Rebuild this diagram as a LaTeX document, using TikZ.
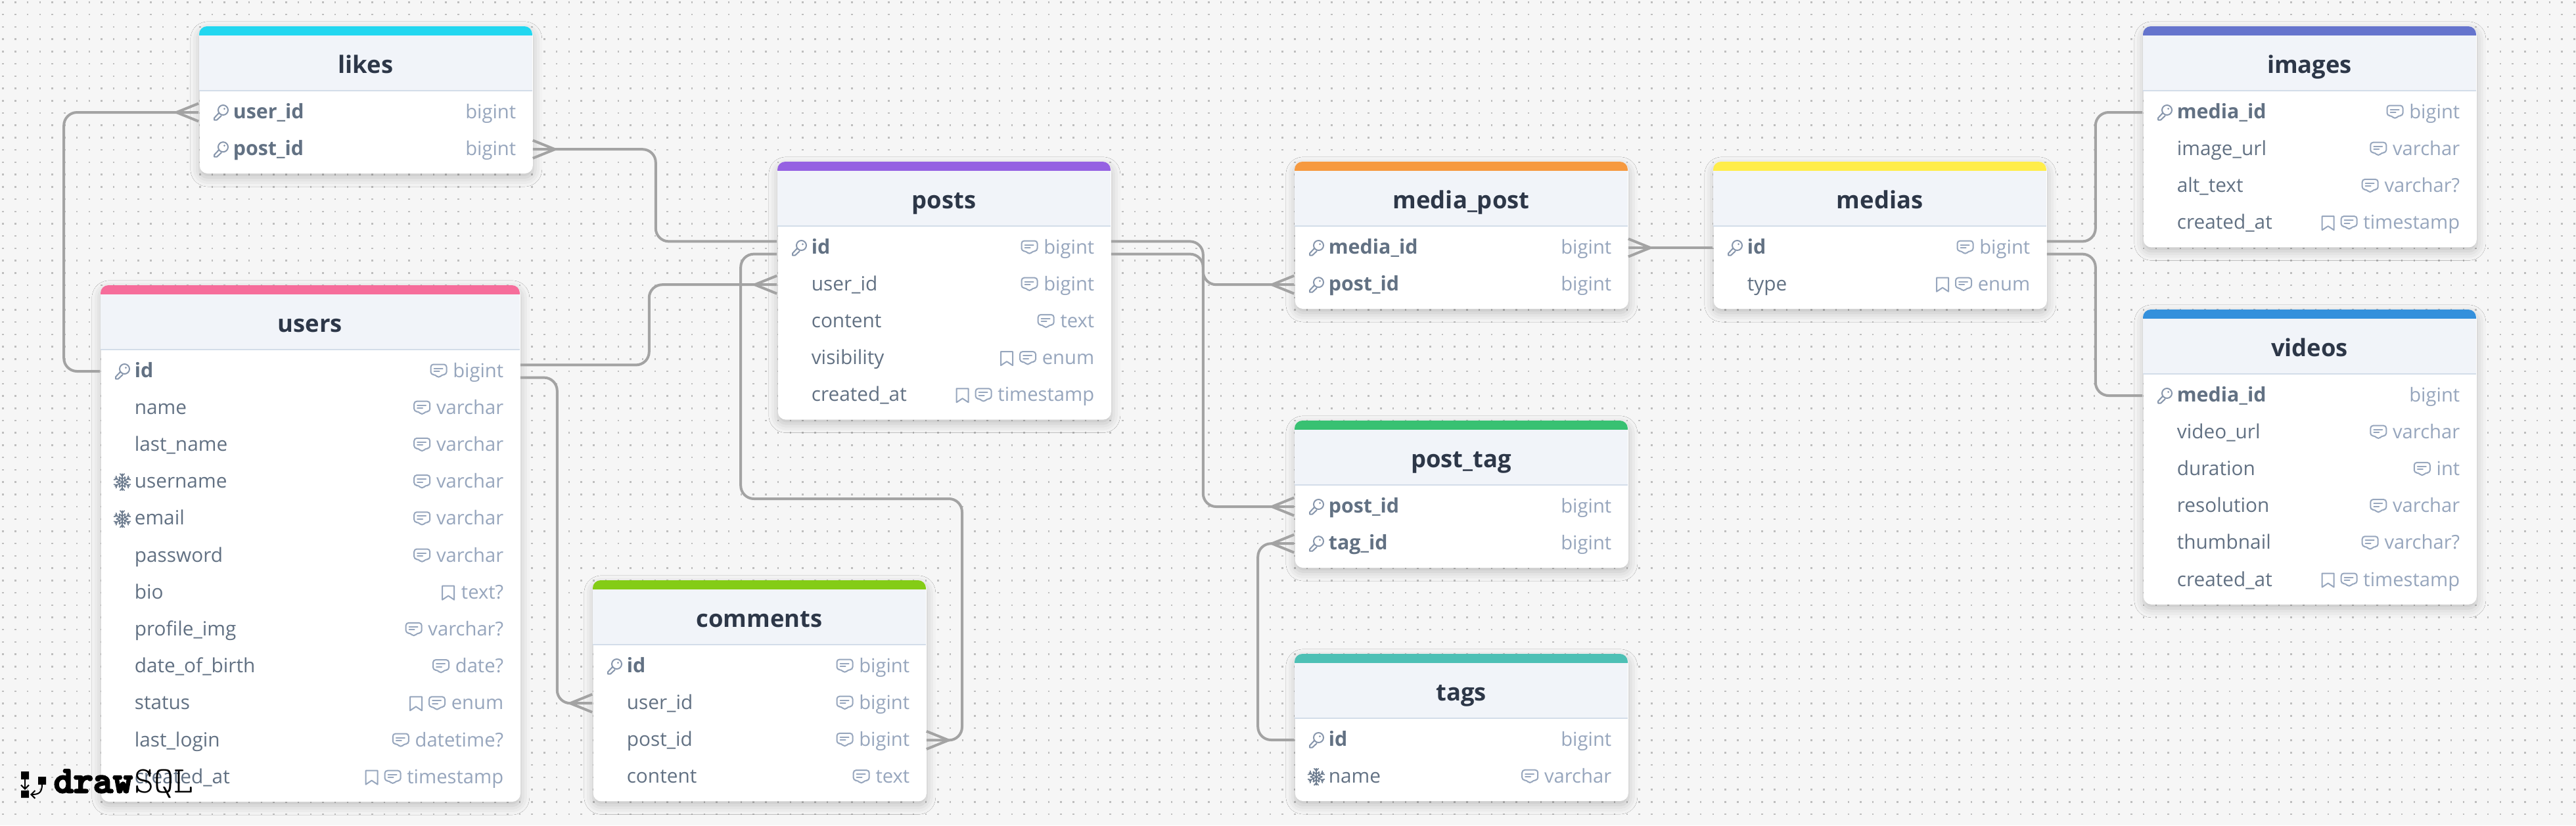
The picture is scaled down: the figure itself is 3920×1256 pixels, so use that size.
\documentclass[tikz,border=0pt]{standalone}
\usepackage{fontspec}
\setmainfont{Open Sans}
\newfontfamily\logodrawfont{lmmonolt10-bold.otf}[FakeBold=4.5]
\usetikzlibrary{arrows.meta,shadows.blur}

\definecolor{pagebg}{HTML}{F6F6F6}
\definecolor{griddot}{HTML}{BEBEBE}
\definecolor{headfill}{HTML}{F1F4F9}
\definecolor{headline}{HTML}{D3DDE9}
\definecolor{titleink}{HTML}{2D3748}
\definecolor{rowink}{HTML}{627183}
\definecolor{typeink}{HTML}{97A6BD}
\definecolor{relink}{HTML}{A3A3A3}
\definecolor{barlikes}{HTML}{22D7F0}
\definecolor{barusers}{HTML}{F66D9B}
\definecolor{barposts}{HTML}{9561E2}
\definecolor{barcomments}{HTML}{84CC16}
\definecolor{barmediapost}{HTML}{F6993F}
\definecolor{barmedias}{HTML}{FFED4A}
\definecolor{barposttag}{HTML}{38C172}
\definecolor{bartags}{HTML}{4DC0B5}
\definecolor{barimages}{HTML}{6574CD}
\definecolor{barvideos}{HTML}{3490DC}

\tikzset{
	tablecard/.style={rectangle,rounded corners=3pt,fill=white,inner sep=0pt,anchor=north west,
		blur shadow={shadow xshift=0pt,shadow yshift=-1.5pt,shadow blur radius=3.5pt,shadow opacity=22}},
	tabletitle/.style={anchor=base,inner sep=0pt,text=titleink,font=\fontsize{9.1}{11}\selectfont\bfseries},
	rowslot/.style={rectangle,inner sep=0pt,minimum height=14pt},
	rowname/.style={anchor=base west,inner sep=0pt,text=rowink,font=\fontsize{7.45}{9}\selectfont},
	rowtype/.style={anchor=base east,inner sep=0pt,text=typeink,font=\fontsize{7.3}{9}\selectfont},
	weight-k/.style={font=\fontsize{7.6}{9}\selectfont\bfseries},
	weight-u/.style={},
	weight-n/.style={},
	relline/.style={draw=relink,line width=1pt,rounded corners=5pt},
	dotrow/.style={griddot,line width=.625pt,dash pattern=on .625pt off 4.055pt},
	iconline/.style={typeink,line width=.5pt,line join=round,line cap=round},
	pics/lead-n/.style={code={}},
	pics/lead-k/.style={code={
		\draw[typeink!70!rowink,line width=.5pt,line join=round]
			(3.5,-3.5) circle (7.5)
			(-2.5,0.5) -- (-10,8.5) -- (-10,11.5) -- (-6,11.5) -- (1,5);
		\fill[typeink!70!rowink] (5.5,-5.5) circle (1.5);
	}},
	pics/lead-u/.style={code={
		\foreach \a in {30,90,...,330}{
			\draw[rowink!80!typeink,line width=.4pt,rotate=\a]
				(0,0) -- (13,0) (8,-4.5) -- (4,0) -- (8,4.5) (13,-3.5) -- (9,0) -- (13,3.5);
		}
	}},
	pics/flag-n/.style={code={}},
	pics/flag-c/.style={code={
		\draw[iconline,rounded corners=1pt]
			(-33,-10.5) -- (-9,-10.5) -- (-9,5) -- (-16,5) -- (-21,10.5) -- (-26,5) -- (-33,5) -- cycle;
		\draw[iconline] (-28,-4.5) -- (-15,-4.5) (-28,0) -- (-20,0);
	}},
	pics/flag-m/.style={code={
		\draw[iconline] (-28,-10.5) -- (-10,-10.5) -- (-10,10.5) -- (-19,4.5) -- (-28,10.5) -- cycle;
	}},
	pics/flag-b/.style={code={
		\pic {flag-c};
		\draw[iconline] (-62,-10.5) -- (-44,-10.5) -- (-44,10.5) -- (-53,4.5) -- (-62,10.5) -- cycle;
	}},
}

% name, left, top, width, colour, number of rows, rows
\newcommand{\dbtable}[7]{
	\pgfmathsetmacro{\cardh}{167+(#6-1)*56.2}
	\node[tablecard,minimum width=#4*0.25pt,minimum height=\cardh*0.25pt] (#1) at (#2,#3) {};
	\fill[#5] (#2,#3+14) [rounded corners=3pt] -- (#2,#3) -- (#2+#4,#3) [sharp corners] -- (#2+#4,#3+14) -- cycle;
	\fill[headfill] (#2,#3+14) rectangle (#2+#4,#3+97);
	\draw[headline,line width=.5pt] (#2,#3+97.5) -- (#2+#4,#3+97.5);
	\node[tabletitle] (#1-title) at (#2+#4/2,#3+71) {#1};
	\foreach \fname/\fkey/\fflag/\ftype [count=\i from 0] in {#7}{
		\pgfmathsetmacro{\ry}{#3+131+\i*56.2}
		\node[rowslot,minimum width=#4*0.25pt] (#1-\fname) at (#2+#4/2,\ry) {};
		\pic at (#2+33,\ry) {lead-\fkey};
		\node[rowname,weight-\fkey] (#1-\fname-name) at (#2+51,\ry+9) {\fname};
		\node[rowtype] (#1-\fname-type) at (#2+#4-24,\ry+9) {\ftype};
		\pic at (#1-\fname-type.west |- #1-\fname.center) {flag-\fflag};
	}
}
\newcommand{\crowwest}[1]{\draw[relline,rounded corners=0pt] ([yshift=3.4pt]#1.west) -- ([xshift=-8.4pt]#1.west) -- ([yshift=-3.4pt]#1.west);}
\newcommand{\croweast}[1]{\draw[relline,rounded corners=0pt] ([yshift=3.4pt]#1.east) -- ([xshift=8.4pt]#1.east) -- ([yshift=-3.4pt]#1.east);}

\begin{document}
\catcode`\_=12
\begin{tikzpicture}[x=0.25pt,y=-0.25pt]
	\useasboundingbox (0,0) rectangle (3920,1256);
	\fill[pagebg] (0,0) rectangle (3920,1256);
	\foreach \j in {0,...,66}{
		\draw[dotrow] (3.5,3.5+\j*18.72) -- (3920,3.5+\j*18.72);
	}

	\dbtable{likes}{303}{40}{507}{barlikes}{2}{user_id/k/n/bigint,post_id/k/n/bigint}
	\dbtable{users}{153}{434}{638}{barusers}{12}{id/k/c/bigint,name/n/c/varchar,last_name/n/c/varchar,
		username/u/c/varchar,email/u/c/varchar,password/n/c/varchar,bio/n/m/text?,profile_img/n/c/varchar?,
		date_of_birth/n/c/date?,status/n/b/enum,last_login/n/c/datetime?,created_at/n/b/timestamp}
	\dbtable{posts}{1183}{246}{507}{barposts}{5}{id/k/c/bigint,user_id/n/c/bigint,content/n/c/text,
		visibility/n/b/enum,created_at/n/b/timestamp}
	\dbtable{comments}{902}{883}{507}{barcomments}{4}{id/k/c/bigint,user_id/n/c/bigint,post_id/n/c/bigint,content/n/c/text}
	\dbtable{media_post}{1970}{246}{507}{barmediapost}{2}{media_id/k/n/bigint,post_id/k/n/bigint}
	\dbtable{medias}{2607}{246}{507}{barmedias}{2}{id/k/c/bigint,type/n/b/enum}
	\dbtable{post_tag}{1970}{640}{507}{barposttag}{2}{post_id/k/n/bigint,tag_id/k/n/bigint}
	\dbtable{tags}{1970}{995}{507}{bartags}{2}{id/k/n/bigint,name/u/c/varchar}
	\dbtable{images}{3261}{40}{507}{barimages}{4}{media_id/k/c/bigint,image_url/n/c/varchar,
		alt_text/n/c/varchar?,created_at/n/b/timestamp}
	\dbtable{videos}{3261}{471}{507}{barvideos}{6}{media_id/k/n/bigint,video_url/n/c/varchar,duration/n/c/int,
		resolution/n/c/varchar,thumbnail/n/c/varchar?,created_at/n/b/timestamp}

	\coordinate (postsdrop) at (1464,759);
	\draw[relline] (users-id.west) -- ++(-55,0) |- (likes-user_id.west);
	\draw[relline] (likes-post_id.east) -- ++(187,0) |- ([yshift=2.4pt]posts-id.west);
	\draw[relline] ([yshift=2.4pt]users-id.east) -- ++(196,0) |- (posts-user_id.west);
	\draw[relline] ([yshift=-2.4pt]users-id.east) -- ++(56,0) |- (comments-user_id.west);
	\draw[relline] ([yshift=-2.4pt]posts-id.west) -- ++(-55,0) |- (postsdrop) |- (comments-post_id.east);
	\draw[relline] ([yshift=2.4pt]posts-id.east) -- ++(140,0) |- (media_post-post_id.west);
	\draw[relline] ([yshift=-2.4pt]posts-id.east) -- ++(140,0) |- (post_tag-post_id.west);
	\draw[relline] (media_post-media_id.east) -- (medias-id.west);
	\draw[relline] ([yshift=2.4pt]medias-id.east) -- ++(74,0) |- (images-media_id.west);
	\draw[relline] ([yshift=-2.4pt]medias-id.east) -- ++(74,0) |- (videos-media_id.west);
	\draw[relline] (tags-id.west) -- ++(-55,0) |- (post_tag-tag_id.west);
	\crowwest{likes-user_id}
	\croweast{likes-post_id}
	\crowwest{posts-user_id}
	\crowwest{comments-user_id}
	\croweast{comments-post_id}
	\crowwest{media_post-post_id}
	\croweast{media_post-media_id}
	\crowwest{post_tag-post_id}
	\crowwest{post_tag-tag_id}

	% logo
	\fill[black] (32,1174) rectangle (44,1186) (58,1182) rectangle (70,1194) (32,1203) rectangle (44,1214);
	\draw[black,line width=.5pt,-{Straight Barb[length=1.5pt,width=3pt]}] (38,1186) -- (38,1202);
	\draw[black,line width=.5pt,-{Straight Barb[length=1.5pt,width=3pt]}] (64,1194) .. controls (64,1207) and (58,1209) .. (46,1209);
	\node[anchor=base west,inner sep=0pt,font=\fontsize{14.3}{16}\selectfont\logodrawfont] (logo-draw) at (81,1206) {draw};
	\node[anchor=base west,inner sep=0pt,font=\fontsize{14.3}{16}\selectfont\ttfamily\fontseries{l}\selectfont] (logo-sql) at (204,1206) {SQL};
\end{tikzpicture}
\end{document}
